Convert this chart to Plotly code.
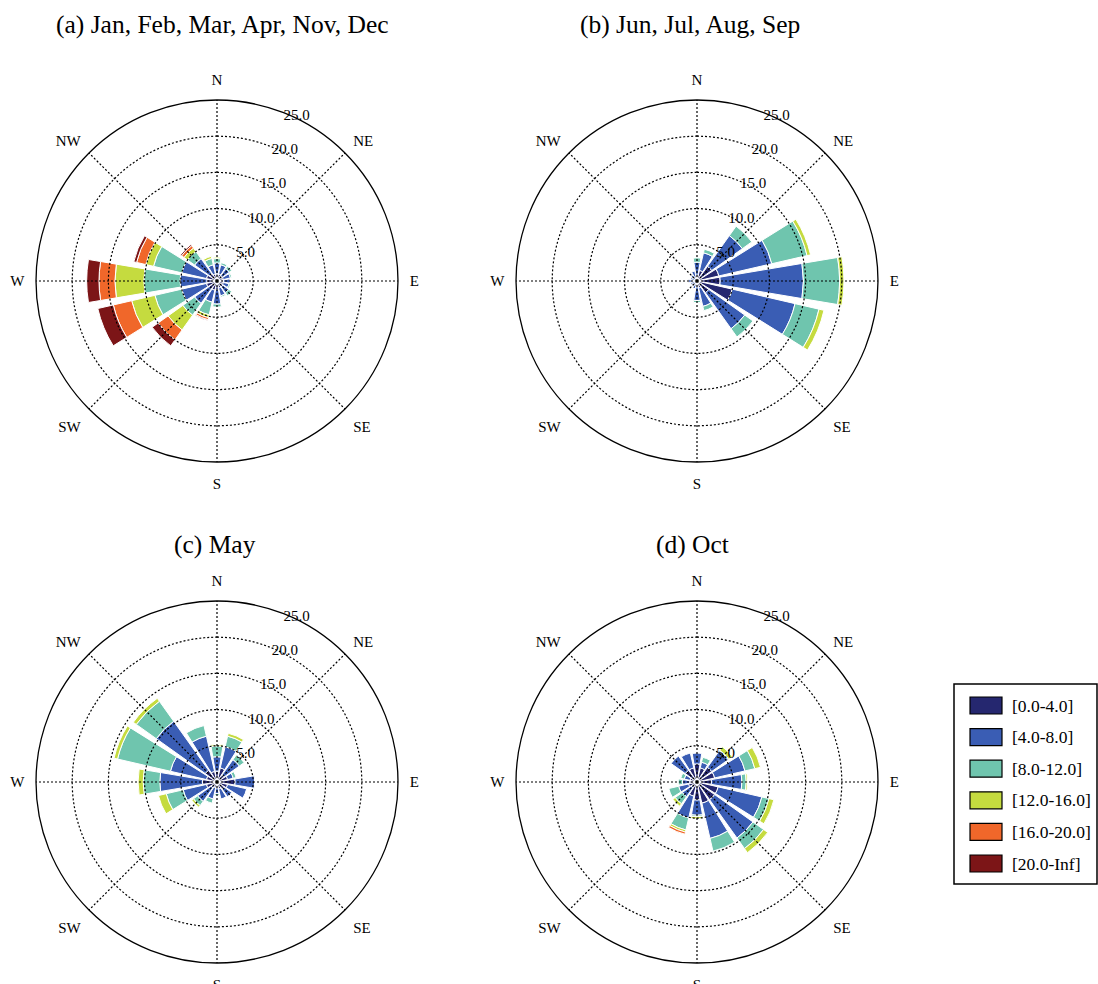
import numpy as np
import plotly.graph_objects as go

W, H = 1098, 984

directions = ["N", "NNE", "NE", "ENE", "E", "ESE", "SE", "SSE",
              "S", "SSW", "SW", "WSW", "W", "WNW", "NW", "NNW"]
theta = [i * 22.5 for i in range(16)]

speed_bins = ["[0.0-4.0]", "[4.0-8.0]", "[8.0-12.0]",
              "[12.0-16.0]", "[16.0-20.0]", "[20.0-Inf]"]
bin_colors = ["#25276f", "#3a5db4", "#6fc5ae", "#c5db3f", "#f0672a", "#7c1517"]

radial_ticks = [5, 10, 15, 20, 25]
compass_angles = [0, 45, 90, 135, 180, 225, 270, 315]
compass_labels = ["N", "NE", "E", "SE", "S", "SW", "W", "NW"]

panel_titles = ["(a) Jan, Feb, Mar, Apr, Nov, Dec", "(b) Jun, Jul, Aug, Sep",
                "(c) May", "(d) Oct"]

# Frequency (%) per sector, one row per wind-speed bin (N ... NNW)
freq_a = [
    [1.0, 1.0, 0.9, 0.9, 0.9, 0.9, 1.0, 1.0, 1.2, 1.3, 1.3, 1.5, 1.4, 1.5, 1.2, 1.0],
    [1.5, 1.3, 1.2, 1.0, 0.9, 0.8, 1.0, 1.1, 2.0, 1.7, 2.5, 3.5, 3.7, 3.5, 2.6, 1.3],
    [0.6, 0.3, 0.4, 0.2, 0.0, 0.2, 0.5, 0.2, 0.4, 1.8, 2.0, 3.8, 5.0, 4.0, 1.2, 0.9],
    [0.2, 0.0, 0.0, 0.0, 0.0, 0.0, 0.0, 0.0, 0.0, 0.4, 2.5, 3.3, 4.0, 1.1, 0.6, 0.3],
    [0.0, 0.0, 0.0, 0.0, 0.0, 0.0, 0.0, 0.0, 0.0, 0.3, 1.7, 2.6, 2.2, 1.3, 0.4, 0.0],
    [0.0, 0.0, 0.0, 0.0, 0.0, 0.0, 0.0, 0.0, 0.0, 0.1, 1.0, 2.2, 1.7, 0.4, 0.2, 0.0],
]
freq_b = [
    [0.8, 1.5, 2.5, 3.1, 3.2, 5.0, 2.0, 1.0, 0.8, 0.5, 0.4, 0.4, 0.5, 0.4, 0.4, 0.5],
    [1.8, 2.5, 5.2, 7.5, 11.5, 8.9, 6.1, 2.6, 1.9, 0.6, 0.5, 0.5, 0.7, 0.5, 0.6, 0.9],
    [0.6, 0.5, 1.6, 5.0, 5.0, 3.4, 1.4, 0.6, 0.3, 0.0, 0.0, 0.0, 0.0, 0.0, 0.0, 0.0],
    [0.0, 0.0, 0.0, 0.5, 0.6, 0.7, 0.0, 0.0, 0.0, 0.0, 0.0, 0.0, 0.0, 0.0, 0.0, 0.0],
    [0.0] * 16,
    [0.0] * 16,
]
freq_c = [
    [1.5, 2.0, 1.2, 1.5, 2.5, 1.5, 1.2, 1.0, 0.8, 0.8, 1.0, 1.5, 2.0, 1.5, 2.0, 1.5],
    [2.0, 3.0, 2.6, 0.8, 2.7, 2.7, 1.3, 1.4, 0.8, 1.6, 2.3, 3.3, 5.9, 5.1, 8.3, 5.0],
    [1.5, 1.5, 0.8, 0.4, 0.0, 0.0, 0.0, 0.0, 0.3, 0.6, 0.7, 2.4, 2.3, 7.5, 3.4, 1.5],
    [0.2, 0.4, 0.0, 0.0, 0.0, 0.0, 0.0, 0.0, 0.0, 0.0, 0.3, 1.1, 0.7, 0.5, 0.5, 0.0],
    [0.0] * 16,
    [0.0] * 16,
]
freq_d = [
    [2.5, 2.0, 2.5, 2.5, 2.0, 3.0, 3.0, 3.0, 2.5, 2.0, 1.0, 1.2, 1.0, 1.0, 2.0, 2.0],
    [1.5, 0.8, 2.8, 4.3, 4.2, 6.2, 6.5, 5.0, 2.1, 3.1, 1.5, 1.4, 1.0, 0.8, 2.4, 2.1],
    [0.0, 0.7, 0.1, 1.4, 0.6, 1.0, 1.8, 1.8, 0.2, 1.7, 1.2, 1.4, 0.6, 0.5, 0.0, 0.0],
    [0.0, 0.0, 0.6, 0.8, 0.2, 0.7, 0.7, 0.0, 0.3, 0.3, 0.4, 0.0, 0.0, 0.0, 0.0, 0.0],
    [0.0, 0.0, 0.0, 0.0, 0.0, 0.0, 0.0, 0.0, 0.0, 0.3, 0.0, 0.0, 0.0, 0.0, 0.0, 0.0],
    [0.0] * 16,
]
panels = [freq_a, freq_b, freq_c, freq_d]

SERIF = "Liberation Serif, Times New Roman, serif"
R_OUT = 181
centers = [(217, 281), (697, 281), (217, 782), (697, 782)]
title_pos = [(222, 24), (690, 24), (215, 544), (692, 544)]
GRID_DASH = "2px,2px"
RADIAL_AXIS_ANGLE = 71


def px_x(x):
    return x / W


def px_y(y):
    return 1 - y / H


fig = go.Figure()
layout_polars = {}

for k, freq in enumerate(panels):
    name = "polar" if k == 0 else f"polar{k + 1}"
    for b, row in enumerate(freq):
        fig.add_trace(go.Barpolar(
            r=row, theta=theta, width=[19] * 16, name=speed_bins[b],
            marker=dict(color=bin_colors[b], line=dict(color="white", width=1)),
            subplot=name, showlegend=False, hoverinfo="skip",
        ))
    # dotted range rings and compass spokes drawn over the bars
    ring_t = np.linspace(0, 360, 361)
    rr, tt = [], []
    for rv in radial_ticks[:-1]:
        rr += [rv] * len(ring_t) + [None]
        tt += list(ring_t) + [None]
    fig.add_trace(go.Scatterpolar(
        r=rr, theta=tt, mode="lines", subplot=name, showlegend=False,
        line=dict(color="black", width=1.2, dash=GRID_DASH), hoverinfo="skip"))
    sr, st = [], []
    for a in compass_angles:
        sr += [0, radial_ticks[-1], None]
        st += [a, a, None]
    fig.add_trace(go.Scatterpolar(
        r=sr, theta=st, mode="lines", subplot=name, showlegend=False,
        line=dict(color="black", width=1.2, dash=GRID_DASH), hoverinfo="skip"))

    cx, cy = centers[k]
    layout_polars[name] = dict(
        domain=dict(x=[px_x(cx - R_OUT), px_x(cx + R_OUT)],
                    y=[px_y(cy + R_OUT), px_y(cy - R_OUT)]),
        bgcolor="white",
        barmode="stack",
        radialaxis=dict(
            range=[0, 25], tickvals=radial_ticks,
            ticktext=[f"{v:.1f}" for v in radial_ticks],
            angle=RADIAL_AXIS_ANGLE, tickangle=RADIAL_AXIS_ANGLE,
            side="clockwise", showline=False, showgrid=False,
            ticks="", tickfont=dict(family=SERIF, size=15, color="black"),
        ),
        angularaxis=dict(
            direction="clockwise", rotation=90,
            tickvals=compass_angles, ticktext=compass_labels,
            showline=True, linecolor="black", linewidth=1.3,
            showgrid=False, ticks="outside", ticklen=8,
            tickcolor="rgba(0,0,0,0)",
            tickfont=dict(family=SERIF, size=15, color="black"),
        ),
    )
    fig.add_annotation(text=panel_titles[k], x=px_x(title_pos[k][0]),
                       y=px_y(title_pos[k][1]), xref="paper", yref="paper",
                       showarrow=False, xanchor="center", yanchor="middle",
                       font=dict(family=SERIF, size=25.5, color="black"))

# legend box with colour swatches
shapes = [dict(type="rect", xref="paper", yref="paper",
               x0=px_x(954), x1=px_x(1097), y0=px_y(884), y1=px_y(684),
               line=dict(color="black", width=1.5), fillcolor="white")]
for i, lab in enumerate(speed_bins):
    top = 697 + 31.6 * i
    shapes.append(dict(type="rect", xref="paper", yref="paper",
                       x0=px_x(970), x1=px_x(1002), y0=px_y(top + 17), y1=px_y(top),
                       line=dict(color="black", width=1.2), fillcolor=bin_colors[i]))
    fig.add_annotation(text=lab, x=px_x(1010), y=px_y(top + 8.5), xref="paper",
                       yref="paper", showarrow=False, xanchor="left",
                       yanchor="middle", font=dict(family=SERIF, size=17.5, color="black"))

fig.update_layout(
    width=W, height=H, margin=dict(l=0, r=0, t=0, b=0),
    paper_bgcolor="white", plot_bgcolor="white",
    shapes=shapes, showlegend=False, **layout_polars,
)

fig.write_html("out.html")
